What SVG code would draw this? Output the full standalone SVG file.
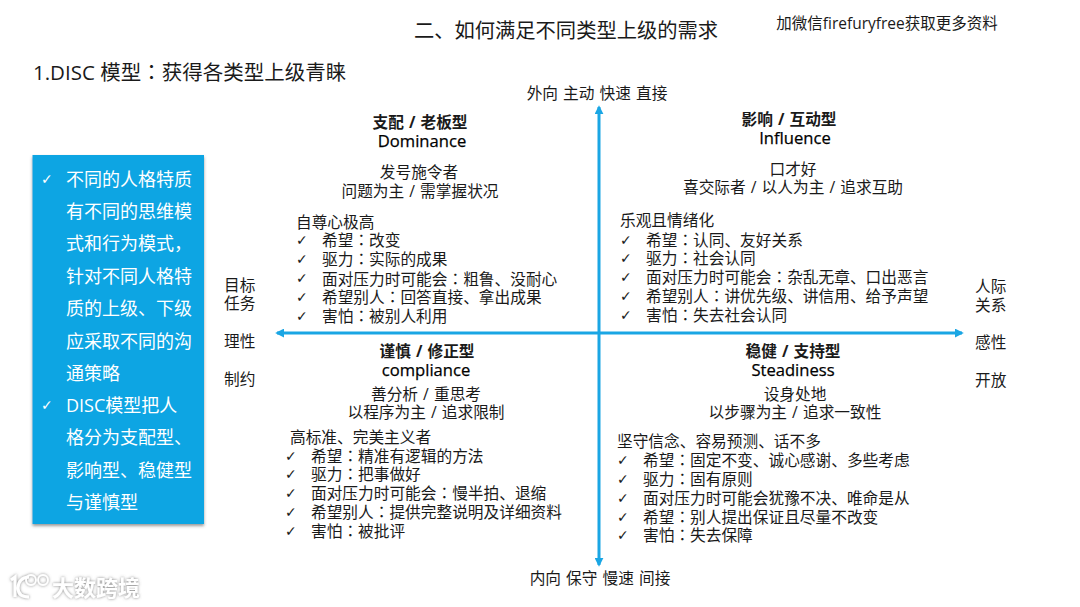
<svg xmlns="http://www.w3.org/2000/svg" width="1080" height="607" viewBox="0 0 1080 607">
<style>
text{font-family:"Open Sans","Noto Sans CJK SC",sans-serif;fill:#1a1a1a;font-size:15.7px}
.m{text-anchor:middle;word-spacing:1px}
.b{font-weight:700}
.e{font-size:16.6px;fill:#000;stroke:#000;stroke-width:.25px}
.k{font-family:"DejaVu Sans",sans-serif;font-size:14px}
.w{fill:#fff;font-size:18px}
.wk{fill:#fff;font-family:"DejaVu Sans",sans-serif;font-size:14px}
.c{font-family:"Noto Sans CJK TC",sans-serif}
.ax{stroke:#1aa6e4;stroke-width:3;fill:none}
</style>
<defs>
<marker id="arrow" viewBox="0 0 10 10" refX="8" refY="5" markerWidth="3" markerHeight="3" orient="auto-start-reverse"><path d="M0 0L10 5L0 10z" fill="#1aa6e4"/></marker>
<filter id="sh" x="-10%" y="-5%" width="120%" height="110%"><feDropShadow dx="0" dy="2" stdDeviation="1.5" flood-color="#555" flood-opacity=".6"/></filter>
<filter id="halo" x="-10%" y="-20%" width="120%" height="140%"><feDropShadow dx="0" dy="0" stdDeviation="1.4" flood-color="#777" flood-opacity=".9"/></filter>
</defs>
<rect width="1080" height="607" fill="#fff"/>

<g id="title">
<text x="566" y="38" class="m" style="font-size:20.3px">二、如何满足不同类型上级的需求</text>
<text x="887" y="29" class="m" style="font-size:15.5px">加微信firefuryfree获取更多资料</text>
<text x="33" y="80" style="font-size:20.5px">1.DISC 模型<tspan class="c">：</tspan>获得各类型上级青睐</text>
</g>

<g id="connectors">
<line class="ax" x1="599" y1="565" x2="599" y2="107" marker-start="url(#arrow)" marker-end="url(#arrow)"/>
<line class="ax" x1="277" y1="333" x2="962" y2="333" marker-start="url(#arrow)" marker-end="url(#arrow)"/>
</g>

<g id="summary">
<rect x="32.5" y="155" width="171.5" height="369" fill="#0ea5e3" filter="url(#sh)"/>
<text x="41" y="184" class="wk">✓</text>
<text x="66" y="186" class="w">不同的人格特质</text>
<text x="66" y="218" class="w">有不同的思维模</text>
<text x="66" y="250" class="w">式和行为模式，</text>
<text x="66" y="283" class="w">针对不同人格特</text>
<text x="66" y="315" class="w">质的上级、下级</text>
<text x="66" y="348" class="w">应采取不同的沟</text>
<text x="66" y="380" class="w">通策略</text>
<text x="41" y="410" class="wk">✓</text>
<text x="66" y="412" class="w">DISC模型把人</text>
<text x="66" y="444" class="w">格分为支配型、</text>
<text x="66" y="477" class="w">影响型、稳健型</text>
<text x="66" y="509" class="w">与谨慎型</text>
</g>

<g id="axis-labels">
<text x="597" y="99" class="m">外向 主动 快速 直接</text>
<text x="600" y="584" class="m">内向 保守 慢速 间接</text>
<text x="224" y="291">目标</text>
<text x="224" y="309">任务</text>
<text x="224" y="347">理性</text>
<text x="224" y="385">制约</text>
<text x="975" y="292">人际</text>
<text x="975" y="311">关系</text>
<text x="975" y="348">感性</text>
<text x="975" y="386">开放</text>
</g>

<g id="dominance">
<text x="420" y="128" class="m b">支配 / 老板型</text>
<text x="422" y="147" class="m e">Dominance</text>
<text x="419" y="178" class="m">发号施令者</text>
<text x="420" y="197" class="m">问题为主 / 需掌握状况</text>
<text x="296" y="228">自尊心极高</text>
<text x="296" y="245" class="k">✓</text><text x="322" y="246">希望<tspan class="c">：</tspan>改变</text>
<text x="296" y="264" class="k">✓</text><text x="322" y="265">驱力<tspan class="c">：</tspan>实际的成果</text>
<text x="296" y="283" class="k">✓</text><text x="322" y="285">面对压力时可能会<tspan class="c">：</tspan>粗鲁、没耐心</text>
<text x="296" y="302" class="k">✓</text><text x="322" y="303">希望别人<tspan class="c">：</tspan>回答直接、拿出成果</text>
<text x="296" y="321" class="k">✓</text><text x="322" y="322">害怕<tspan class="c">：</tspan>被别人利用</text>
</g>

<g id="influence">
<text x="789" y="125" class="m b">影响 / 互动型</text>
<text x="795" y="144" class="m e">Influence</text>
<text x="793" y="175" class="m">口才好</text>
<text x="793" y="193" class="m">喜交际者 / 以人为主 / 追求互助</text>
<text x="620" y="226">乐观且情绪化</text>
<text x="620" y="245" class="k">✓</text><text x="646" y="246">希望<tspan class="c">：</tspan>认同、友好关系</text>
<text x="620" y="263" class="k">✓</text><text x="646" y="264">驱力<tspan class="c">：</tspan>社会认同</text>
<text x="620" y="282" class="k">✓</text><text x="646" y="283">面对压力时可能会<tspan class="c">：</tspan>杂乱无章、口出恶言</text>
<text x="620" y="301" class="k">✓</text><text x="646" y="302">希望别人<tspan class="c">：</tspan>讲优先级、讲信用、给予声望</text>
<text x="620" y="320" class="k">✓</text><text x="646" y="321">害怕<tspan class="c">：</tspan>失去社会认同</text>
</g>

<g id="compliance">
<text x="427" y="357" class="m b">谨慎 / 修正型</text>
<text x="426" y="376" class="m e">compliance</text>
<text x="426" y="400" class="m">善分析 / 重思考</text>
<text x="426" y="418" class="m">以程序为主 / 追求限制</text>
<text x="290" y="443">高标准、完美主义者</text>
<text x="285" y="461" class="k">✓</text><text x="311" y="462">希望<tspan class="c">：</tspan>精准有逻辑的方法</text>
<text x="285" y="479" class="k">✓</text><text x="311" y="480">驱力<tspan class="c">：</tspan>把事做好</text>
<text x="285" y="498" class="k">✓</text><text x="311" y="499">面对压力时可能会<tspan class="c">：</tspan>慢半拍、退缩</text>
<text x="285" y="517" class="k">✓</text><text x="311" y="518">希望别人<tspan class="c">：</tspan>提供完整说明及详细资料</text>
<text x="285" y="536" class="k">✓</text><text x="311" y="537">害怕<tspan class="c">：</tspan>被批评</text>
</g>

<g id="steadiness">
<text x="793" y="357" class="m b">稳健 / 支持型</text>
<text x="793" y="376" class="m e">Steadiness</text>
<text x="795" y="400" class="m">设身处地</text>
<text x="795" y="418" class="m">以步骤为主 / 追求一致性</text>
<text x="617" y="447">坚守信念、容易预测、话不多</text>
<text x="617" y="465" class="k">✓</text><text x="643" y="466">希望<tspan class="c">：</tspan>固定不变、诚心感谢、多些考虑</text>
<text x="617" y="484" class="k">✓</text><text x="643" y="485">驱力<tspan class="c">：</tspan>固有原则</text>
<text x="617" y="503" class="k">✓</text><text x="643" y="504">面对压力时可能会犹豫不决、唯命是从</text>
<text x="617" y="522" class="k">✓</text><text x="643" y="523">希望<tspan class="c">：</tspan>别人提出保证且尽量不改变</text>
<text x="617" y="540" class="k">✓</text><text x="643" y="541">害怕<tspan class="c">：</tspan>失去保障</text>
</g>

<g id="watermark" filter="url(#halo)">
<path d="M11 580L15 577V597M29 577C22 577 18 582 18 588C18 594 22 597 29 597" fill="none" stroke="#fff" stroke-width="3"/>
<circle cx="31" cy="580" r="5" fill="none" stroke="#fff" stroke-width="1.8"/>
<circle cx="43" cy="580" r="5" fill="none" stroke="#fff" stroke-width="1.8"/>
<text x="52" y="596" style="font-size:22px;fill:#fff;font-weight:700">大数跨境</text>
</g>
</svg>
